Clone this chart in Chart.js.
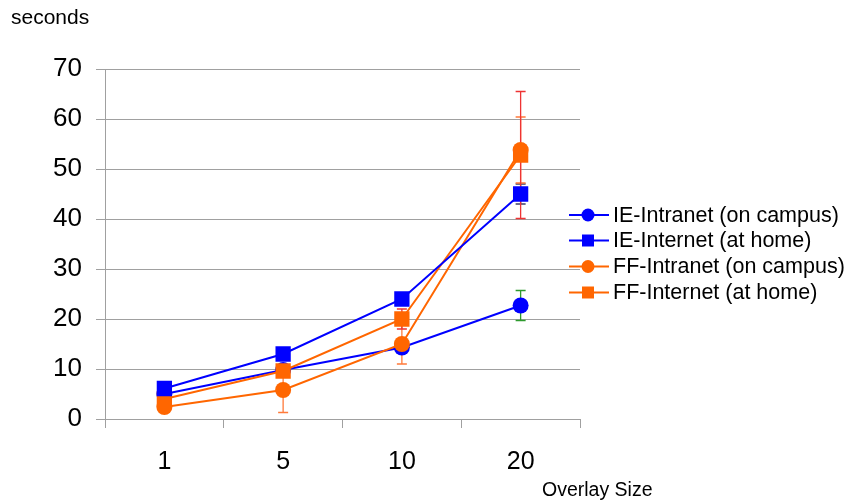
<!DOCTYPE html>
<html>
<head>
<meta charset="utf-8">
<script src="https://cdn.jsdelivr.net/npm/chart.js@4.4.1/dist/chart.umd.min.js"></script>
<style>
  html, body { margin: 0; padding: 0; background: #ffffff; }
  #wrap { width: 855px; height: 503px; }
</style>
</head>
<body>
<div id="wrap"><canvas id="c" width="855" height="503"></canvas></div>
<script>
// Overlay sizes on the x axis
const sizes = ['1', '5', '10', '20'];

// Load times in seconds, with the half-width of each error bar
const ieIntranet = [5.0, 9.8, 14.3, 22.7];
const ieIntranetErr = [0.5, 0.5, 0.8, 3.0];
const ieInternet = [6.1, 13.0, 24.0, 45.0];
const ieInternetErr = [0.5, 0.8, 1.0, 2.0];
const ffIntranet = [2.4, 5.8, 15.0, 53.8];
const ffIntranetErr = [0.5, 4.5, 4.0, 6.6];
const ffInternet = [4.0, 9.6, 20.0, 52.8];
const ffInternetErr = [0.5, 0.8, 2.0, 12.7];

const yTicks = [0, 10, 20, 30, 40, 50, 60, 70];

const FONT = '"Liberation Sans", Arial, sans-serif';
const BLUE = '#0000ff';
const ORANGE = '#ff6600';

function series(label, data, err, color, shape, errColor, order) {
  return {
    label, data, order,
    errors: err,
    errorColor: errColor,
    borderColor: color,
    backgroundColor: color,
    borderWidth: 2,
    pointStyle: shape,
    pointRadius: shape === 'rect' ? 10.8 : 8,
    pointHoverRadius: shape === 'rect' ? 10.8 : 8,
    pointBorderWidth: 0,
    tension: 0,
    fill: false
  };
}

// Vertical error bars with caps, placed through the chart's scales, under the series
const errorBars = {
  id: 'errorBars',
  beforeDatasetsDraw(chart) {
    const ctx = chart.ctx;
    const xs = chart.scales.x, ys = chart.scales.y;
    chart.data.datasets.forEach((ds) => {
      ctx.save();
      ctx.strokeStyle = ds.errorColor;
      ctx.lineWidth = 1.3;
      ds.data.forEach((v, i) => {
        const e = ds.errors[i];
        const x = xs.getPixelForValue(i);
        const yTop = ys.getPixelForValue(v + e);
        const yBot = ys.getPixelForValue(v - e);
        ctx.beginPath();
        ctx.moveTo(x, yTop); ctx.lineTo(x, yBot);
        ctx.moveTo(x - 5, yTop); ctx.lineTo(x + 5, yTop);
        ctx.moveTo(x - 5, yBot); ctx.lineTo(x + 5, yBot);
        ctx.stroke();
      });
      ctx.restore();
    });
  }
};

// Axis captions and the legend on the right
const captions = {
  id: 'captions',
  afterDraw(chart) {
    const ctx = chart.ctx;
    ctx.save();
    ctx.fillStyle = '#000000';
    ctx.textBaseline = 'alphabetic';
    ctx.textAlign = 'left';
    ctx.font = '21px ' + FONT;
    ctx.fillText('seconds', 11, 24);
    ctx.font = '19.5px ' + FONT;
    ctx.fillText('Overlay Size', 542, 496);

    const rows = [215, 240.5, 266.5, 292.5];
    ctx.font = '21.5px ' + FONT;
    ctx.textBaseline = 'middle';
    chart.data.datasets.forEach((ds, i) => {
      const y = rows[i];
      ctx.strokeStyle = ds.borderColor;
      ctx.fillStyle = ds.borderColor;
      ctx.lineWidth = 2;
      ctx.beginPath();
      ctx.moveTo(569, y); ctx.lineTo(609, y);
      ctx.stroke();
      ctx.beginPath();
      if (ds.pointStyle === 'rect') {
        ctx.rect(582, y - 6, 12, 12);
      } else {
        ctx.arc(588, y, 6.5, 0, Math.PI * 2);
      }
      ctx.fill();
      ctx.fillStyle = '#000000';
      ctx.fillText(ds.label, 613, y + 1);
    });
    ctx.restore();
  }
};

new Chart(document.getElementById('c'), {
  type: 'line',
  data: {
    labels: sizes,
    datasets: [
      series('IE-Intranet (on campus)', ieIntranet, ieIntranetErr, BLUE, 'circle', '#2e9a2e', 3),
      series('IE-Internet (at home)', ieInternet, ieInternetErr, BLUE, 'rect', '#3a3f6a', 0),
      series('FF-Intranet (on campus)', ffIntranet, ffIntranetErr, ORANGE, 'circle', '#ff7a3a', 1),
      series('FF-Internet (at home)', ffInternet, ffInternetErr, ORANGE, 'rect', '#ee3333', 2)
    ]
  },
  options: {
    responsive: false,
    animation: false,
    devicePixelRatio: 1,
    layout: { padding: { top: 69, right: 275, bottom: 0, left: 0 } },
    plugins: {
      legend: { display: false },
      tooltip: { enabled: false }
    },
    scales: {
      x: {
        type: 'category',
        offset: true,
        afterFit(scale) { scale.height = 84; },
        grid: {
          offset: true,
          drawOnChartArea: false,
          drawTicks: true,
          tickLength: 9,
          color: '#a0a0a0',
          lineWidth: 1
        },
        border: { display: true, color: '#a0a0a0', width: 1 },
        ticks: {
          color: '#000000',
          padding: 19,
          font: { family: FONT, size: 25 }
        }
      },
      y: {
        min: 0,
        max: 70,
        afterFit(scale) { scale.width = 105; },
        afterBuildTicks(scale) { scale.ticks = yTicks.map(v => ({ value: v })); },
        grid: {
          color: '#a0a0a0',
          lineWidth: 1,
          tickLength: 9,
          drawTicks: true
        },
        border: { display: true, color: '#a0a0a0', width: 1 },
        ticks: {
          color: '#000000',
          padding: 14,
          font: { family: FONT, size: 26 }
        }
      }
    }
  },
  plugins: [errorBars, captions]
});
</script>
</body>
</html>
